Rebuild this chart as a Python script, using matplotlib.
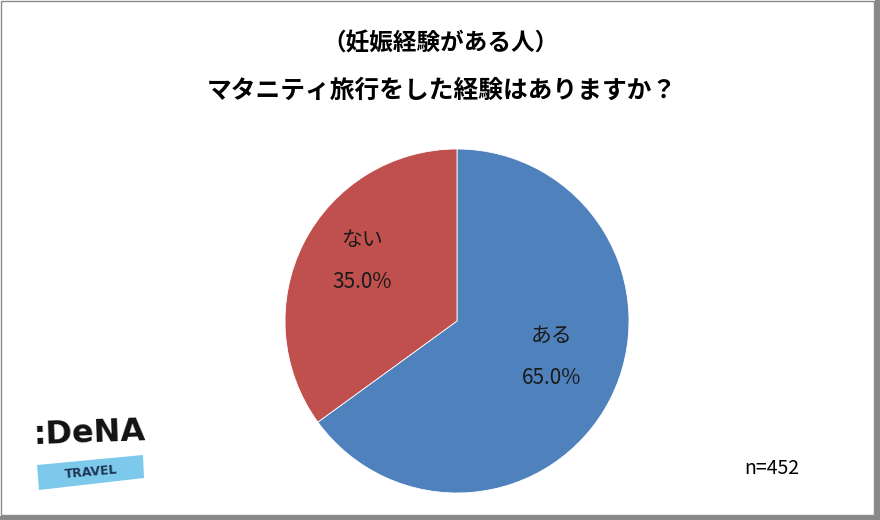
import matplotlib
matplotlib.use("Agg")
import matplotlib.pyplot as plt
import numpy as np
from matplotlib.patches import Rectangle, Polygon

plt.rcParams['font.family'] = ['Noto Sans CJK JP', 'DejaVu Sans']

# data
labels = ['ある', 'ない']
shares = [65.0, 35.0]
colors = ['#4F81BD', '#C0504D']
title1 = '（妊娠経験がある人）'
title2 = 'マタニティ旅行をした経験はありますか？'
sample_note = 'n=452'

W, H = 880, 520
fig = plt.figure(figsize=(W / 100, H / 100), dpi=100)
fig.patch.set_facecolor('white')


# pixel (from top-left) -> figure fraction
def fx(x):
    return x / W


def fy(y):
    return 1 - y / H


# pie axes, centre (457, 321), radius 172 px
cx, cy, r = 457, 321, 172
ax = fig.add_axes([fx(cx - r), fy(cy + r), 2 * r / W, 2 * r / H])
wedges, _ = ax.pie(shares, colors=colors, startangle=90, counterclock=False,
                   wedgeprops=dict(edgecolor='white', linewidth=0.6))
ax.set_xlim(-1, 1)
ax.set_ylim(-1, 1)
ax.set_aspect('equal')
ax.axis('off')

# slice labels at the mid angle of each wedge (Excel style: name above, percent below)
for w, lab, val in zip(wedges, labels, shares):
    ang = np.deg2rad((w.theta1 + w.theta2) / 2)
    x, y = 0.62 * np.cos(ang), 0.62 * np.sin(ang) + 0.07
    ax.text(x, y + 0.122, lab, ha='center', va='center', fontsize=15, color='#1a1a1a')
    ax.text(x, y - 0.122, f'{val:.1f}%', ha='center', va='center', fontsize=15, color='#1a1a1a')

# titles
fig.text(fx(441), fy(43), title1, ha='center', va='center', fontsize=17, fontweight='bold')
fig.text(fx(442), fy(91), title2, ha='center', va='center', fontsize=17.8, fontweight='bold')

# sample size
fig.text(fx(772), fy(469), sample_note, ha='center', va='center', fontsize=14)

# logo
band = Polygon([[fx(37), fy(465)], [fx(143), fy(455)], [fx(144), fy(478)], [fx(39), fy(490)]],
               closed=True, transform=fig.transFigure, facecolor='#7DC9EC', edgecolor='none')
fig.patches.append(band)
fig.text(fx(91), fy(472), 'TRAVEL', ha='center', va='center', fontsize=9, fontweight='bold',
         color='#1E3553', rotation=5, family=['DejaVu Sans'])
fig.text(fx(89), fy(434), ':DeNA', ha='center', va='center', fontsize=23, fontweight='bold',
         color='#111111', rotation=2, family=['DejaVu Sans'])

# frame: thin line left/top, thicker shadow right/bottom
fig.patches.append(Rectangle((fx(1), fy(515)), fx(873), 514 / H, transform=fig.transFigure,
                             fill=False, edgecolor='#8c8c8c', linewidth=1))
fig.patches.append(Rectangle((fx(875), 0), fx(5), 1, transform=fig.transFigure,
                             facecolor='#888888', edgecolor='none'))
fig.patches.append(Rectangle((0, 0), 1, 4 / H, transform=fig.transFigure,
                             facecolor='#888888', edgecolor='none'))

fig.savefig('out.png', dpi=100, facecolor='white')
